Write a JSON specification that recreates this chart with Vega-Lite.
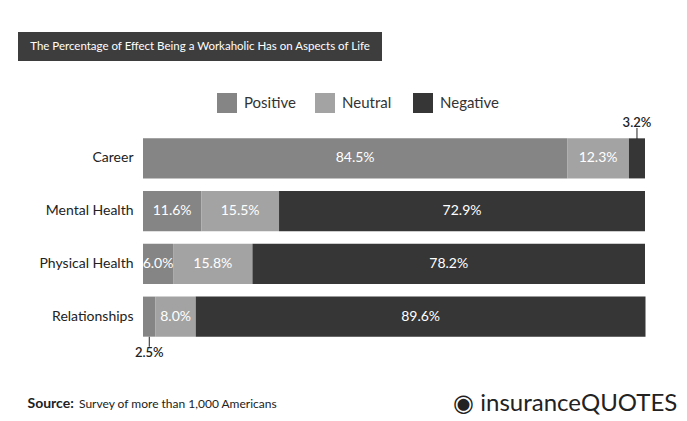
{
  "$schema": "https://vega.github.io/schema/vega-lite/v6.json",
  "background": "white",
  "padding": {"left": 18, "top": 32, "right": 0, "bottom": 0},
  "autosize": {"type": "pad"},
  "config": {
    "view": {"stroke": null},
    "font": "Lato",
    "concat": {"spacing": 32}
  },
  "title": {
    "text": "◉ insuranceQUOTES",
    "orient": "bottom",
    "anchor": "end",
    "fontSize": 24,
    "fontWeight": "normal",
    "color": "#222222",
    "dx": 26,
    "dy": -22
  },
  "resolve": {"legend": {"color": "independent"}, "scale": {"color": "independent"}},
  "vconcat": [
    {
      "data": {"values": [{"title": "The Percentage of Effect Being a Workaholic Has on Aspects of Life"}]},
      "width": 364,
      "height": 29,
      "view": {"fill": "#3d3d3d", "stroke": null},
      "mark": {"type": "text", "color": "white", "fontSize": 11.5, "baseline": "middle", "align": "center"},
      "encoding": {"text": {"field": "title", "type": "nominal"}}
    },
    {
      "data": {
        "values": [
          {"category": "Career", "type": "Positive", "value": 0.845},
          {"category": "Career", "type": "Neutral", "value": 0.123},
          {"category": "Career", "type": "Negative", "value": 0.032},
          {"category": "Mental Health", "type": "Positive", "value": 0.116},
          {"category": "Mental Health", "type": "Neutral", "value": 0.155},
          {"category": "Mental Health", "type": "Negative", "value": 0.729},
          {"category": "Physical Health", "type": "Positive", "value": 0.06},
          {"category": "Physical Health", "type": "Neutral", "value": 0.158},
          {"category": "Physical Health", "type": "Negative", "value": 0.782},
          {"category": "Relationships", "type": "Positive", "value": 0.025},
          {"category": "Relationships", "type": "Neutral", "value": 0.08},
          {"category": "Relationships", "type": "Negative", "value": 0.896}
        ]
      },
      "width": 627,
      "height": 211,
      "title": {
        "text": "Survey of more than 1,000 Americans",
        "orient": "bottom",
        "anchor": "start",
        "frame": "group",
        "dx": 61,
        "dy": -15,
        "fontSize": 12,
        "fontWeight": "normal",
        "color": "#222222"
      },
      "encoding": {
        "y": {
          "field": "category",
          "type": "nominal",
          "sort": ["Career", "Mental Health", "Physical Health", "Relationships"],
          "scale": {"paddingInner": 0.24, "paddingOuter": 0.12},
          "axis": {
            "title": null,
            "ticks": false,
            "domain": false,
            "labelFontSize": 14,
            "labelColor": "#222222",
            "labelPadding": 10,
            "offset": -125
          }
        },
        "detail": {"field": "type", "type": "nominal"},
        "order": {"field": "type", "sort": "descending"}
      },
      "layer": [
        {
          "mark": {"type": "bar"},
          "encoding": {
            "x": {
              "field": "value",
              "type": "quantitative",
              "stack": "zero",
              "scale": {"domain": [0, 1], "nice": false, "range": [125, 627]},
              "axis": {
                "labels": false,
                "ticks": false,
                "domain": false,
                "grid": false,
                "title": "Source:",
                "titleX": 9,
                "titleY": 64,
                "titleAlign": "left",
                "titleBaseline": "alphabetic",
                "titleFontSize": 14,
                "titleFontWeight": "bold",
                "titleColor": "#222222"
              }
            },
            "color": {
              "field": "type",
              "type": "nominal",
              "scale": {"domain": ["Positive", "Neutral", "Negative"], "range": ["#858585", "#a3a3a3", "#363636"]},
              "legend": {
                "orient": "none",
                "legendX": 199,
                "legendY": -39,
                "direction": "horizontal",
                "columns": 3,
                "title": null,
                "symbolType": "square",
                "symbolSize": 400,
                "symbolStrokeWidth": 0,
                "symbolOpacity": 1,
                "labelFontSize": 15,
                "labelColor": "#333333",
                "labelOffset": 7,
                "columnPadding": 12,
                "gridAlign": "all",
                "padding": 0
              }
            }
          }
        },
        {
          "mark": {"type": "text", "color": "white", "fontSize": 14, "baseline": "middle", "align": "center"},
          "encoding": {
            "x": {"field": "value", "type": "quantitative", "stack": "zero", "bandPosition": 0.5},
            "text": {
              "condition": {"test": "datum.value < 0.05", "value": ""},
              "field": "value",
              "type": "quantitative",
              "format": ".1%"
            }
          }
        },
        {
          "mark": {"type": "text", "color": "#222222", "fontSize": 13, "fontWeight": 600, "baseline": "middle", "align": "center", "yOffset": -35},
          "encoding": {
            "x": {"field": "value", "type": "quantitative", "stack": "zero", "bandPosition": 0.5},
            "text": {
              "condition": {"test": "datum.value < 0.05 && datum.type === 'Negative'", "field": "value", "type": "quantitative", "format": ".1%"},
              "value": ""
            }
          }
        },
        {
          "mark": {"type": "text", "color": "#222222", "fontSize": 13, "fontWeight": 600, "baseline": "middle", "align": "center", "yOffset": 36},
          "encoding": {
            "x": {"field": "value", "type": "quantitative", "stack": "zero", "bandPosition": 0.5},
            "text": {
              "condition": {"test": "datum.value < 0.05 && datum.type === 'Positive'", "field": "value", "type": "quantitative", "format": ".1%"},
              "value": ""
            }
          }
        },
        {
          "mark": {"type": "tick", "color": "#222222", "size": 11, "thickness": 1, "yOffset": -25},
          "encoding": {
            "x": {"field": "value", "type": "quantitative", "stack": "zero", "bandPosition": 0.5},
            "opacity": {
              "condition": {"test": "datum.value < 0.05 && datum.type === 'Negative'", "value": 1},
              "value": 0
            }
          }
        },
        {
          "mark": {"type": "tick", "color": "#222222", "size": 10, "thickness": 1, "yOffset": 25},
          "encoding": {
            "x": {"field": "value", "type": "quantitative", "stack": "zero", "bandPosition": 0.5},
            "opacity": {
              "condition": {"test": "datum.value < 0.05 && datum.type === 'Positive'", "value": 1},
              "value": 0
            }
          }
        }
      ]
    }
  ]
}
